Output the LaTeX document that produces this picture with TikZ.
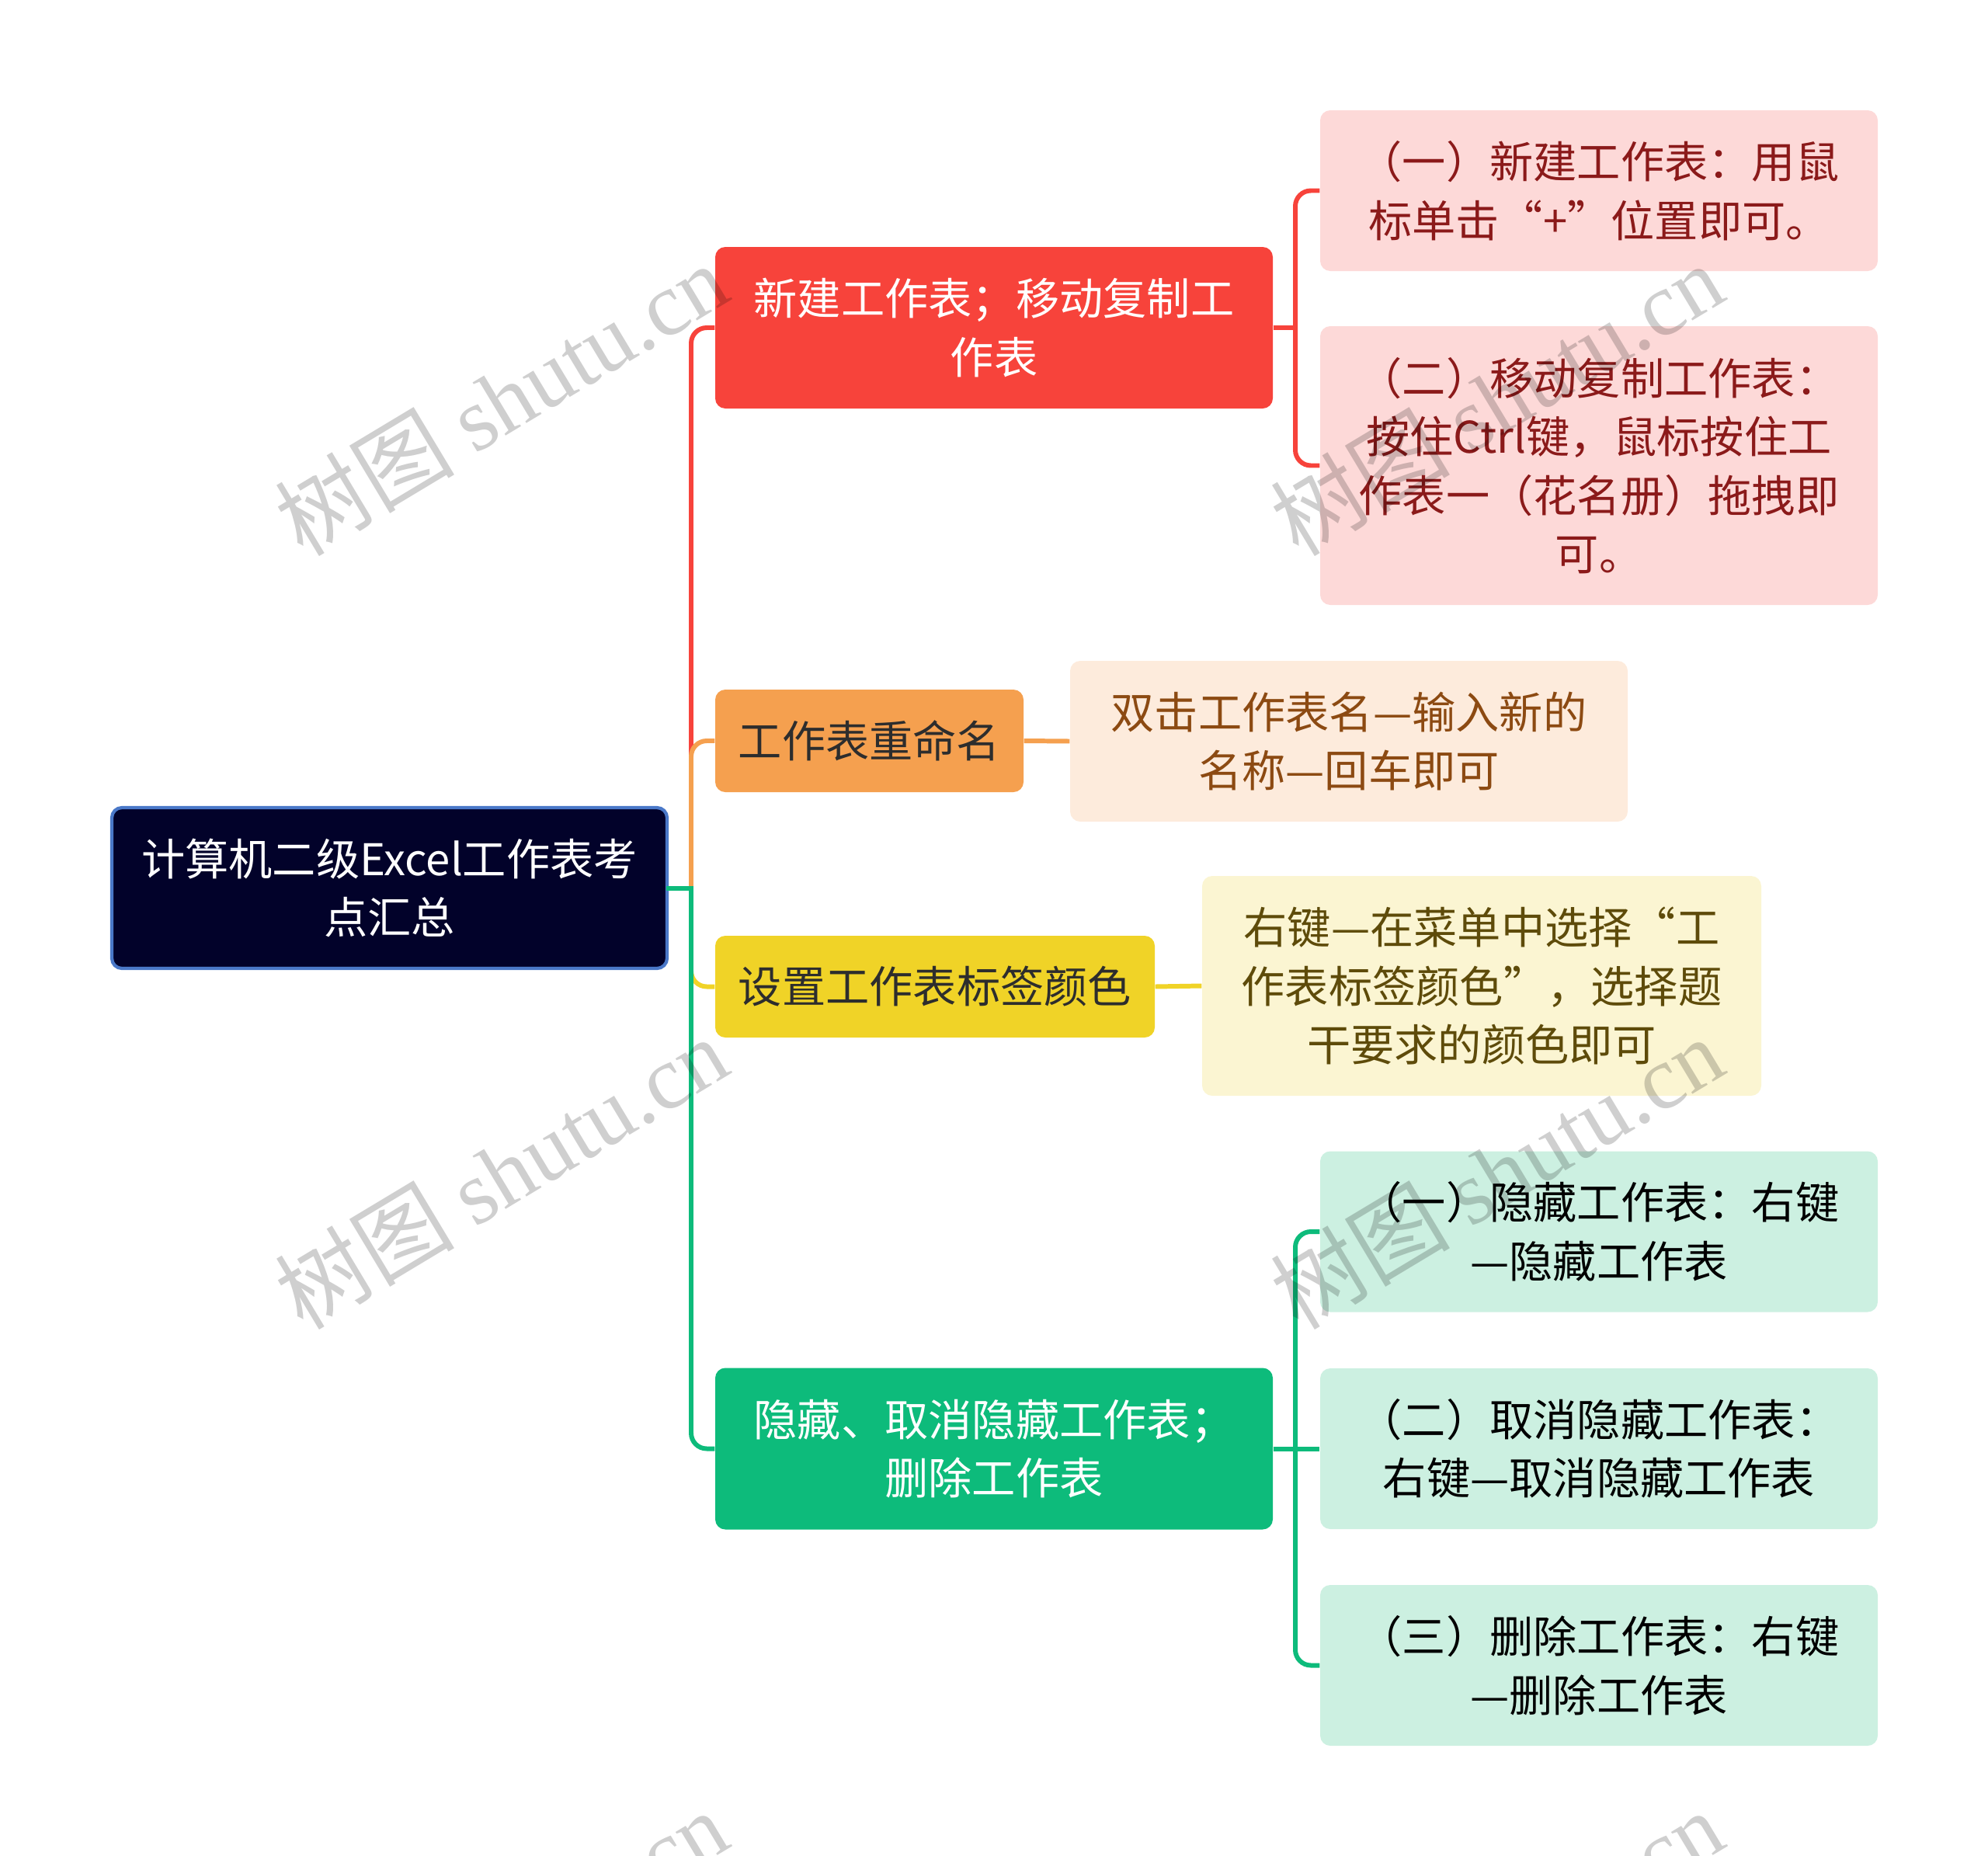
\documentclass[tikz,border=0pt]{standalone}
\usepackage{fontspec}
\setmainfont{Noto Sans CJK SC}
\newfontfamily\wmlatin{Liberation Serif}
\usetikzlibrary{calc}

\definecolor{rootfill}{HTML}{02022A}
\definecolor{rootedge}{HTML}{4A78C8}
\definecolor{redmain}{HTML}{F7433B}
\definecolor{redleaf}{HTML}{FDD9D8}
\definecolor{redtext}{HTML}{8B1A1A}
\definecolor{orangemain}{HTML}{F5A04F}
\definecolor{orangeleaf}{HTML}{FDEBDC}
\definecolor{orangetext}{HTML}{8C4A12}
\definecolor{yellowmain}{HTML}{F0D327}
\definecolor{yellowleaf}{HTML}{FBF5D2}
\definecolor{yellowtext}{HTML}{5E4B0A}
\definecolor{greenmain}{HTML}{0DBB7B}
\definecolor{greenleaf}{HTML}{CCF0E1}
\definecolor{darktext}{HTML}{2D2D2D}

\begin{document}
\begin{tikzpicture}[
    box/.style={rounded corners=0.13cm, align=center, inner sep=0pt,
        font=\fontsize{16}{21.5}\selectfont},
    rootbox/.style={box, draw=rootedge, line width=1.2pt, fill=rootfill, text=white,
        minimum width=7.15cm, minimum height=2.07cm},
    topic/.style={box, minimum height=2.08cm},
    leaf/.style={box, minimum width=7.18cm, minimum height=2.07cm},
    link/.style={line width=1.7pt, rounded corners=0.2cm},
    watermark/.style={rotate=31, opacity=0.19, font=\fontsize{33}{38}\selectfont}
]
    \useasboundingbox (0,0) rectangle (25.6,-23.9);

    % --- Root ---
    \node[rootbox] (root) at (5.015,-11.435) {计算机二级Excel工作表考\\点汇总};

    % --- Topics ---
    \node[topic, fill=redmain, text=white, minimum width=7.18cm] (newsheet) at (12.80,-4.22)
        {新建工作表；移动复制工\\作表};
    \node[topic, fill=orangemain, text=darktext, minimum width=3.97cm, minimum height=1.32cm]
        (rename) at (11.195,-9.54) {工作表重命名};
    \node[topic, fill=yellowmain, text=darktext, minimum width=5.66cm, minimum height=1.31cm]
        (tabcolor) at (12.04,-12.705) {设置工作表标签颜色};
    \node[topic, fill=greenmain, text=white, minimum width=7.18cm] (hide) at (12.80,-18.655)
        {隐藏、取消隐藏工作表；\\删除工作表};

    % --- Leaves ---
    \node[leaf, fill=redleaf, text=redtext] (newone) at (20.59,-2.455)
        {（一）新建工作表：用鼠\\标单击“+”位置即可。};
    \node[leaf, fill=redleaf, text=redtext, minimum height=3.59cm] (movecopy) at (20.59,-5.995)
        {（二）移动复制工作表：\\按住Ctrl键，鼠标按住工\\作表一（花名册）拖拽即\\可。};
    \node[leaf, fill=orangeleaf, text=orangetext] (renameleaf) at (17.37,-9.545)
        {双击工作表名—输入新的\\名称—回车即可};
    \node[leaf, fill=yellowleaf, text=yellowtext, minimum width=7.20cm, minimum height=2.83cm]
        (colorleaf) at (19.08,-12.695)
        {右键—在菜单中选择“工\\作表标签颜色”，选择题\\干要求的颜色即可};
    \node[leaf, fill=greenleaf, text=black] (hideone) at (20.59,-15.86)
        {（一）隐藏工作表：右键\\—隐藏工作表};
    \node[leaf, fill=greenleaf, text=black] (hidetwo) at (20.59,-18.655)
        {（二）取消隐藏工作表：\\右键—取消隐藏工作表};
    \node[leaf, fill=greenleaf, text=black] (hidethree) at (20.59,-21.445)
        {（三）删除工作表：右键\\—删除工作表};

    % --- Connectors from the root ---
    \coordinate (trunk) at (8.90,-11.435);
    \draw[link, redmain] (trunk) |- (newsheet.west);
    \draw[link, orangemain] (trunk) |- (rename.west);
    \draw[link, yellowmain] (trunk) |- (tabcolor.west);
    \draw[link, greenmain, line cap=rect, rounded corners=0pt] (root.east) -- (trunk);
    \draw[link, greenmain] (trunk) |- (hide.west);

    % --- Connectors to the leaves ---
    \coordinate (redfork) at (16.68,-4.22);
    \draw[link, redmain] (newsheet.east) -- (redfork);
    \draw[link, redmain] (redfork) |- (newone.west);
    \draw[link, redmain] (redfork) |- (movecopy.west);
    \draw[link, orangemain] (rename.east) -- (renameleaf.west);
    \draw[link, yellowmain] (tabcolor.east) -- (colorleaf.west);
    \coordinate (greenfork) at (16.68,-18.655);
    \draw[link, greenmain] (hide.east) -- (greenfork);
    \draw[link, greenmain] (greenfork) |- (hideone.west);
    \draw[link, greenmain] (greenfork) -- (hidetwo.west);
    \draw[link, greenmain] (greenfork) |- (hidethree.west);

    % --- Watermarks ---
    \begin{scope}
        \clip (0,0) rectangle (25.6,-23.9);
        \foreach \wx/\wy in {6.45/-5.14, 19.27/-5.14, 6.45/-15.10, 19.27/-15.10, 6.45/-25.06, 19.27/-25.06}
            \node[watermark] at (\wx,\wy) {{\rmfamily 树图} {\wmlatin shutu.cn}};
    \end{scope}

\end{tikzpicture}
\end{document}
